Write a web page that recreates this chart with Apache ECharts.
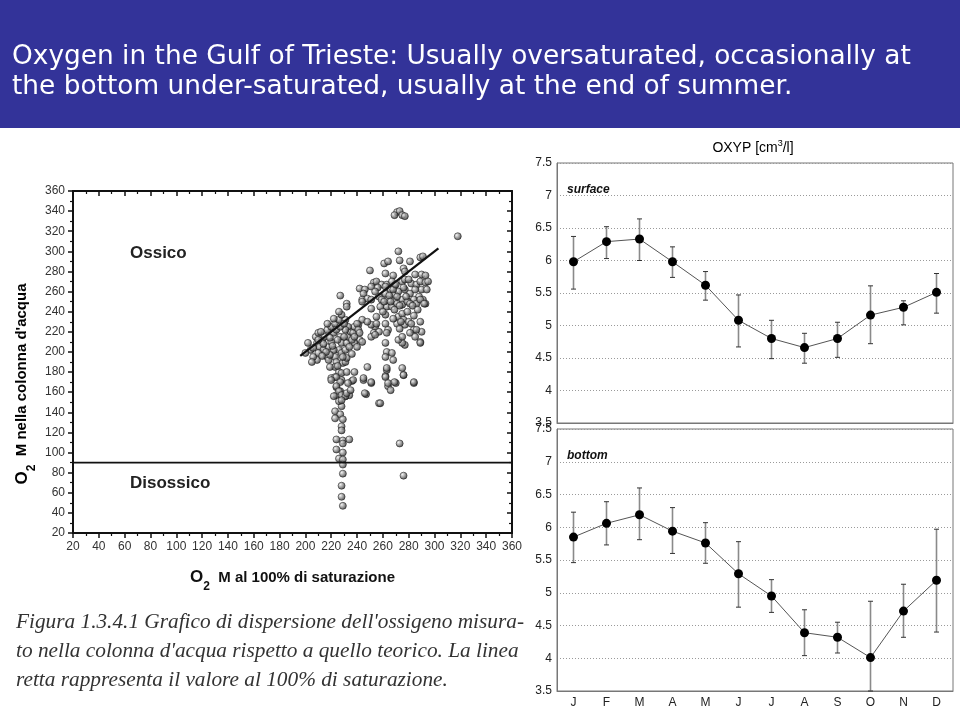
<!DOCTYPE html>
<html><head><meta charset="utf-8">
<script src="https://cdn.jsdelivr.net/npm/echarts/dist/echarts.min.js"></script>
<style>html,body{margin:0;padding:0;background:#fff}#c{width:960px;height:720px}</style>
</head><body><div id="c"></div><script>
// ---------- DATA ----------
const headerLines = [
  'Oxygen in the Gulf of Trieste: Usually oversaturated, occasionally at',
  'the bottom under-saturated, usually at the end of summer.'
];
const captionLines = [
  "Figura 1.3.4.1 Grafico di dispersione dell'ossigeno misura-",
  "to nella colonna d'acqua rispetto a quello teorico. La linea",
  "retta rappresenta il valore al 100% di saturazione."
];
// scatter: [O2 at 100% saturation, O2 measured in water column]
const scatterPoints = [
  [228,146],[223,141],[227,138],[223,134],[229,133],[228,126],[228,122],[224,113],[229,112],[234,113],
  [229,109],[224,103],[229,100],[226,94],[229,93],[229,88],[229,79],[228,67],[228,56],[229,47],
  [257,149],[273,109],[276,77],
  [220,174],[223,175],[228,172],[224,165],[227,161],[231,156],[234,157],[224,157],[236,171],[245,172],
  [251,169],[247,158],[262,176],[264,166],[266,162],[270,169],[276,177],[284,169],
  [271,339],[273,340],[269,336],[275,336],[277,335],[318,315],
  [272,300],[273,291],[281,290],[289,294],[291,295],[261,288],[264,290],[250,281],[262,278],[268,276],
  [276,283],[277,280],[285,277],[290,277],[293,276],[253,269],[255,270],[259,267],[251,265],[256,264],
  [263,267],[267,270],[269,266],[275,270],[277,272],[282,268],[286,267],[289,270],[293,269],[295,270],
  [290,262],[294,262],[227,256],[232,248],[232,245],[242,263],[246,262],[245,258],[254,260],[257,255],
  [262,258],[266,262],[269,257],[272,260],[277,262],[281,258],[285,262],[288,255],[291,252],[244,252],
  [248,253],[251,252],[259,252],[264,252],[269,250],[275,252],[280,250],[284,252],[286,248],[289,252],
  [244,250],[251,243],[255,235],[262,237],[263,245],[267,245],[271,248],[275,247],[279,250],[281,248],
  [293,248],[269,242],[272,235],[275,238],[276,232],[277,227],[280,230],[282,228],[271,228],[273,223],
  [289,230],[284,222],[281,219],[285,215],[289,210],[277,207],[275,209],[290,220],[262,228],[264,222],
  [263,219],[254,225],[253,219],[257,220],[251,227],[255,228],[262,209],[263,200],[262,195],[267,199],
  [268,192],[272,212],[275,215],[244,232],[248,230],[241,227],[251,215],[254,217],[242,212],[238,209],
  [248,185],[238,180],[245,174],[237,172],[251,170],[263,182],[262,175],[264,169],[269,170],[275,184],
  [276,177],[284,170],[246,159],[258,149],
  [208,215],[210,219],[209,209],[211,205],[213,212],[215,215],[217,222],[214,202],[210,199],[209,192],
  [217,195],[218,192],[218,205],[220,210],[222,219],[220,225],[223,228],[226,232],[224,222],[227,215],
  [228,209],[226,202],[228,199],[223,195],[224,190],[229,189],[231,190],[232,194],[231,202],[232,209],
  [233,215],[235,220],[236,212],[237,219],[238,225],[240,228],[241,222],[242,219],[244,210],[233,225],
  [231,232],[228,237],[231,222],[222,202],[219,197],[223,185],[226,180],[224,175],[228,179],[227,170],
  [220,172],[224,166],[226,161],[228,157],[231,156],[232,159],[226,151],[228,152],[222,156],[233,169],
  [235,162],[202,209],[204,202],[200,199],[206,195],[205,190],
  [292,248],[289,209],[286,222],[232,180],[263,184],
  [212,220],[214,208],[216,200],[219,214],[221,206],[225,212],[227,225],[230,215],[234,205],[236,198],
  [213,196],[206,204],[210,212],[217,228],[222,233],[226,240],[230,228],[238,215],[240,205],[229,195],
  [225,186],[219,185],
  [258,245],[261,250],[265,256],[268,262],[271,255],[273,246],[278,255],[283,246],[287,242],[276,264],
  [280,272],[270,267],[266,250],[262,265],[279,240],[284,236],[274,230],[268,233],[260,240]
];
const saturationLine = [[196,196],[303,303]];
const anoxicLimit = 90;
const scatterRange = [20,360];

const months = ['J','F','M','A','M','J','J','A','S','O','N','D'];
const surfaceMean = [5.98,6.29,6.33,5.98,5.62,5.08,4.80,4.66,4.80,5.16,5.28,5.51];
const surfaceLow  = [5.56,6.03,6.00,5.74,5.39,4.67,4.49,4.42,4.51,4.72,5.01,5.19];
const surfaceHigh = [6.37,6.52,6.64,6.21,5.83,5.47,5.08,4.88,5.05,5.61,5.38,5.80];
const bottomMean  = [5.85,6.06,6.19,5.94,5.76,5.29,4.95,4.39,4.32,4.01,4.72,5.19];
const bottomLow   = [5.46,5.73,5.81,5.60,5.45,4.78,4.70,4.04,4.08,3.50,4.32,4.40];
const bottomHigh  = [6.23,6.39,6.60,6.30,6.07,5.78,5.20,4.74,4.55,4.87,5.13,5.97];
const oxyRange = [3.5,7.5];

// ---------- CHART ----------
const chart = echarts.init(document.getElementById('c'), null, {renderer:'canvas'});
const sphere = new echarts.graphic.RadialGradient(0.35,0.35,0.75,[
  {offset:0,color:'#f2f2f2'},{offset:0.45,color:'#8c8c8c'},{offset:1,color:'#111111'}]);

const nameRich = {
  o:{fontSize:17,fontWeight:'bold',color:'#111',fontFamily:'Arial'},
  s:{fontSize:12,fontWeight:'bold',color:'#111',fontFamily:'Arial',verticalAlign:'bottom',padding:[0,0,-7,0]},
  t:{fontSize:15,fontWeight:'bold',color:'#111',fontFamily:'Arial'}
};
const sAxisLine = {lineStyle:{color:'#111',width:2}};
function sx(pos){
  const outer = pos==='bottom';
  return {type:'value',gridIndex:0,position:pos,min:scatterRange[0],max:scatterRange[1],interval:20,
    axisLine:sAxisLine,
    axisTick:{show:true,inside:!outer,length:5,lineStyle:{color:'#111',width:1.5}},
    minorTick:{show:true,splitNumber:2,length:3,lineStyle:{color:'#111',width:1.2}},
    axisLabel:{show:outer,fontSize:12,color:'#333',fontFamily:'Arial',margin:8},
    splitLine:{show:false},
    name: outer ? '{o|O}{s|2}{t|  M al 100% di saturazione}' : '',
    nameLocation:'middle',nameGap:36,nameTextStyle:{rich:nameRich}};
}
function sy(pos){
  const outer = pos==='left';
  return {type:'value',gridIndex:0,position:pos,min:scatterRange[0],max:scatterRange[1],interval:20,
    axisLine:sAxisLine,
    axisTick:{show:true,inside:!outer,length:5,lineStyle:{color:'#111',width:1.5}},
    minorTick:{show:true,splitNumber:2,length:3,lineStyle:{color:'#111',width:1.2}},
    axisLabel:{show:outer,fontSize:12,color:'#333',fontFamily:'Arial',margin:8},
    splitLine:{show:false}};
}
function catAxis(grid, labels){
  return {type:'category',gridIndex:grid,data:months,boundaryGap:true,
    axisLine:{show:true,lineStyle:{color:'#777'}},
    axisTick:{show:false},
    axisLabel:{show:labels,fontSize:12,color:'#222',fontFamily:'Arial',margin:6},
    splitLine:{show:false}};
}
function oxyAxis(grid){
  return {type:'value',gridIndex:grid,min:oxyRange[0],max:oxyRange[1],interval:0.5,
    axisLine:{show:true,lineStyle:{color:'#777'}},axisTick:{show:false},
    axisLabel:{fontSize:12,color:'#222',fontFamily:'Arial',margin:5},
    splitLine:{show:true,lineStyle:{color:'#9a9a9a',type:[1,2],width:1}}};
}
function errorBars(low, high, xi, yi){
  return {type:'custom',xAxisIndex:xi,yAxisIndex:yi,z:3,
    data: months.map((m,i)=>[i, low[i], high[i]]),
    encode:{x:0,y:[1,2]},
    renderItem:(params, api)=>{
      const a = api.coord([api.value(0), api.value(1)]);
      const b = api.coord([api.value(0), api.value(2)]);
      const w = 2.5;
      return {type:'group',children:[
        {type:'line',shape:{x1:a[0],y1:a[1],x2:b[0],y2:b[1]},style:{stroke:'#8a8a8a',lineWidth:1.6}},
        {type:'line',shape:{x1:a[0]-w,y1:a[1],x2:a[0]+w,y2:a[1]},style:{stroke:'#333',lineWidth:1}},
        {type:'line',shape:{x1:b[0]-w,y1:b[1],x2:b[0]+w,y2:b[1]},style:{stroke:'#333',lineWidth:1}}
      ]};
    }};
}
function meanLine(data, xi, yi){
  return {type:'line',xAxisIndex:xi,yAxisIndex:yi,data:data,z:4,
    symbol:'circle',symbolSize:9,showSymbol:true,
    itemStyle:{color:'#000'},lineStyle:{color:'#555',width:1}};
}

const option = {
  animation:false,
  backgroundColor:'#fff',
  grid:[
    {left:73,top:191,width:439,height:342},
    {left:557,top:163,width:396,height:260,show:true,borderColor:'#777',borderWidth:1,backgroundColor:'transparent'},
    {left:557,top:429,width:396,height:262,show:true,borderColor:'#777',borderWidth:1,backgroundColor:'transparent'}
  ],
  xAxis:[sx('bottom'),sx('top'),catAxis(1,false),catAxis(2,true)],
  yAxis:[sy('left'),sy('right'),oxyAxis(1),oxyAxis(2)],
  series:[
    {type:'scatter',xAxisIndex:0,yAxisIndex:0,data:scatterPoints,symbolSize:7,z:3,
      itemStyle:{color:sphere,borderColor:'#1a1a1a',borderWidth:0.7}},
    {type:'line',xAxisIndex:0,yAxisIndex:0,data:saturationLine,showSymbol:false,symbol:'none',z:4,
      lineStyle:{color:'#111',width:2.2}},
    {type:'line',xAxisIndex:0,yAxisIndex:0,data:[[scatterRange[0],anoxicLimit],[scatterRange[1],anoxicLimit]],
      symbol:'none',z:4,lineStyle:{color:'#111',width:1.8}},
    errorBars(surfaceLow,surfaceHigh,2,2),
    meanLine(surfaceMean,2,2),
    errorBars(bottomLow,bottomHigh,3,3),
    meanLine(bottomMean,3,3)
  ],
  graphic:[
    {type:'rect',left:0,top:0,shape:{width:960,height:128},style:{fill:'#333399'},z:10},
    {type:'text',left:12,top:42,z:11,style:{text:headerLines.join('\n'),fill:'#fff',
      font:'26.4px "DejaVu Sans"',lineHeight:30}},
    {type:'text',x:22,y:384,rotation:Math.PI/2,style:{text:'{o|O}{s|2}{t|  M nella colonna d\'acqua}',
      align:'center',verticalAlign:'middle',rich:nameRich}},
    {type:'text',left:130,top:245,style:{text:'Ossico',fill:'#222',font:'bold 17px Arial'}},
    {type:'text',left:130,top:475,style:{text:'Disossico',fill:'#222',font:'bold 17px Arial'}},
    {type:'text',left:16,top:608,style:{text:captionLines.join('\n'),fill:'#333',
      font:'italic 21.3px "Liberation Serif"',lineHeight:29}},
    {type:'text',left:567,top:184,style:{text:'surface',fill:'#111',font:'italic bold 12px Arial'}},
    {type:'text',left:567,top:450,style:{text:'bottom',fill:'#111',font:'italic bold 12px Arial'}},
    {type:'text',x:753,y:148,style:{text:'{a|OXYP [cm}{b|3}{a|/l]}',align:'center',verticalAlign:'middle',
      rich:{a:{fontSize:14,fontFamily:'Arial',color:'#111'},
            b:{fontSize:9,fontFamily:'Arial',color:'#111',verticalAlign:'top',padding:[0,0,8,0]}}}}
  ]
};
chart.setOption(option);
</script></body></html>
